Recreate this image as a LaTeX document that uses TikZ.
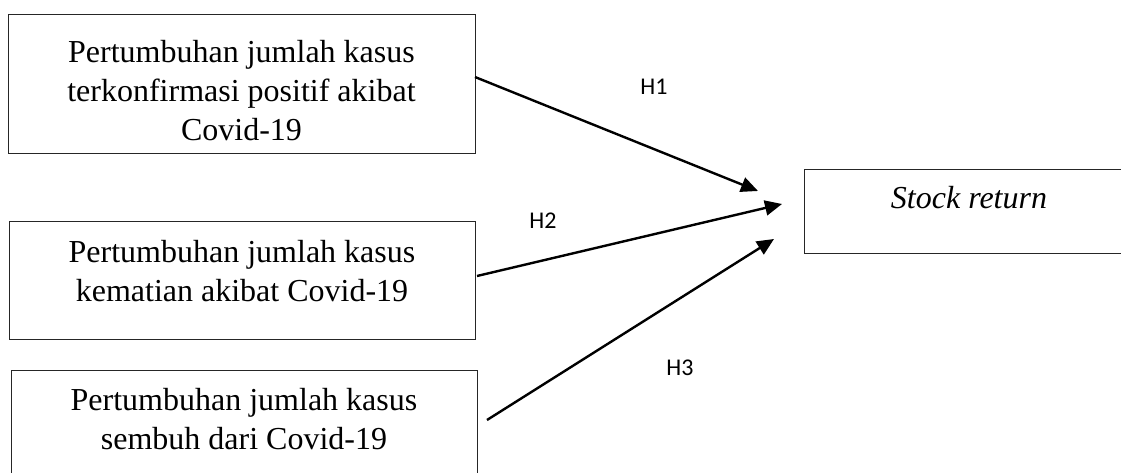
\documentclass[tikz,border=0pt]{standalone}
\usepackage{fontspec}
\setmainfont{Liberation Serif}
\newfontfamily\calib{Carlito}
\usetikzlibrary{arrows.meta}
\tikzset{
  boxnode/.style={draw=black!85, line width=1pt, rectangle, inner sep=0pt},
  boxtext/.style={inner sep=0pt, align=center, font=\fontsize{32}{39}\selectfont},
  hlabel/.style={inner sep=0pt, font=\calib\fontsize{24}{28}\selectfont},
  hyp/.style={line width=2.4pt, -{Triangle[length=17pt,width=15pt]}}
}
\begin{document}
\begin{tikzpicture}[x=1pt,y=-1pt]
\useasboundingbox (0,0) rectangle (1121,473);
\clip (0,0) rectangle (1121,473);
% boxes
\node[boxnode, minimum width=467pt, minimum height=139pt] (b1) at (241.5,84.5) {};
\node[boxnode, minimum width=466pt, minimum height=118pt] (b2) at (242,280) {};
\node[boxnode, minimum width=466pt, minimum height=130pt, anchor=north] (b3) at (244,370) {};
\node[boxnode, minimum width=330pt, minimum height=84pt, anchor=north west] (b4) at (804,169) {};
% texts
\node[boxtext] (t1) at (241.5,91) {Pertumbuhan jumlah kasus\\terkonfirmasi positif akibat\\Covid-19};
\node[boxtext] (t2) at (242,271.5) {Pertumbuhan jumlah kasus\\kematian akibat Covid-19};
\node[boxtext] (t3) at (244,419) {Pertumbuhan jumlah kasus\\sembuh dari Covid-19};
\node[boxtext] (t4) at (969,198) {\itshape Stock return};
% arrow end points
\coordinate (s1) at (475,77);
\coordinate (e1) at (758,191);
\coordinate (s2) at (477,276);
\coordinate (e2) at (782,204);
\coordinate (s3) at (487,420);
\coordinate (e3) at (774,239);
\draw[hyp] (s1) -- (e1);
\draw[hyp] (s2) -- (e2);
\draw[hyp] (s3) -- (e3);
% labels
\node[hlabel] (h1) at (654,87) {H1};
\node[hlabel] (h2) at (543,221) {H2};
\node[hlabel] (h3) at (680,368) {H3};
\end{tikzpicture}
\end{document}
